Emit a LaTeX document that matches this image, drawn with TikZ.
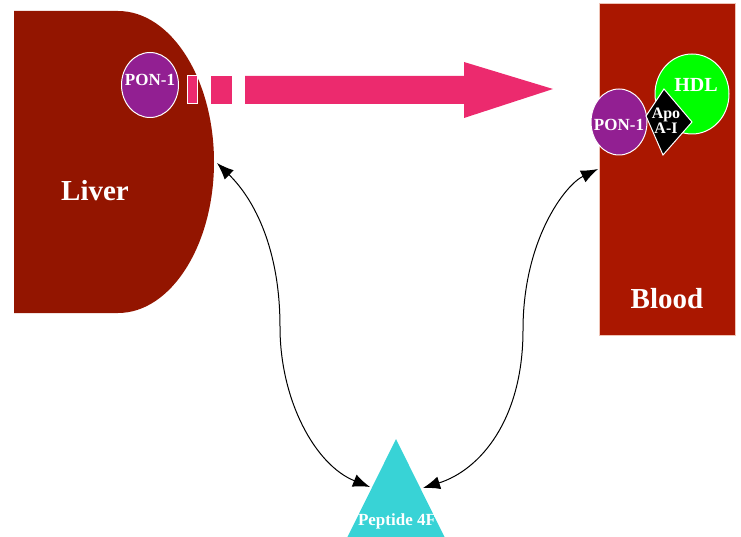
\documentclass[tikz,border=0pt]{standalone}
\usepackage{fontspec}
\setmainfont{Liberation Serif}
\usetikzlibrary{shapes.geometric,arrows.meta}
\definecolor{liverc}{HTML}{931500}
\definecolor{bloodc}{HTML}{AA1700}
\definecolor{bloodedge}{HTML}{EFC4B6}
\definecolor{pinkc}{HTML}{EC2A6E}
\definecolor{ponc}{HTML}{921F92}
\definecolor{hdlc}{HTML}{00FF00}
\definecolor{pepc}{HTML}{38D3D6}
\tikzset{
  wtext/.style={text=white,font=\bfseries,inner sep=0pt,align=center},
  blob/.style={ellipse,draw=white,line width=1pt,inner sep=0pt},
  pinkbar/.style={fill=pinkc},
  link/.style={black,line width=1pt,{Latex[length=17pt,width=13pt]}-{Latex[length=17pt,width=13pt]}}
}
\begin{document}
\begin{tikzpicture}[x=1pt,y=-1pt]
\useasboundingbox (0,0) rectangle (741,537);
% Liver
\fill[liverc] (14,11) -- (118,11) .. controls (171,11) and (214,79) .. (214,162)
  .. controls (214,245) and (171,313) .. (118,313) -- (14,313) -- cycle;
\node[wtext,font=\bfseries\fontsize{29}{31}\selectfont] (liver) at (95,191) {Liver};
% Blood
\fill[bloodc] (599,4) rectangle (735,335);
\draw[bloodedge,line width=1pt] (599,4) rectangle (735,335);
\node[wtext,font=\bfseries\fontsize{29}{31}\selectfont] (blood) at (667,299) {Blood};
% Left PON-1
\node[blob,fill=ponc,minimum width=57pt,minimum height=65pt] (ponL) at (150,85) {};
\node[wtext,font=\bfseries\fontsize{17}{19}\selectfont] (ponLt) at (150,80) {PON-1};
% Big dashed arrow
\filldraw[pinkbar,draw=white,line width=1pt] (187,76) rectangle (197,104);
\fill[pinkbar] (211,76) rectangle (232,104);
\fill[pinkbar] (245,76) -- (464,76) -- (464,62) -- (553,89) -- (464,118) -- (464,104) -- (245,104) -- cycle;
% HDL complex
\node[blob,fill=hdlc,minimum width=74pt,minimum height=80pt] (hdl) at (692,94) {};
\node[wtext,font=\bfseries\fontsize{20}{22}\selectfont] (hdlt) at (696,85) {HDL};
\node[blob,fill=ponc,minimum width=56pt,minimum height=66pt] (ponR) at (619,122) {};
\node[wtext,font=\bfseries\fontsize{17}{19}\selectfont] (ponRt) at (619,125) {PON-1};
\filldraw[fill=black,draw=white,line width=1pt] (664,89) -- (692,122) -- (663,155) -- (646,116) -- cycle;
\node[wtext,font=\bfseries\fontsize{16}{18}\selectfont] (apo) at (666,121) {Apo\\[-3pt]A-I};
% Peptide 4F
\fill[pepc] (396,439) -- (446,540) -- (346,540) -- cycle;
\node[wtext,font=\bfseries\fontsize{17}{19}\selectfont] (pep) at (397,521) {Peptide 4F};
% connector ends
\coordinate (liverEnd) at (217,163);
\coordinate (bloodEnd) at (598,169);
\coordinate (pepL) at (370,487);
\coordinate (pepR) at (423,488);
\coordinate (midL) at (280,327);
\coordinate (midR) at (523,330);
\draw[link] (liverEnd) .. controls (255,200) and (280,250) .. (midL)
  .. controls (280,400) and (315,465) .. (pepL);
\draw[link] (bloodEnd) .. controls (565,185) and (523,240) .. (midR)
  .. controls (523,420) and (480,470) .. (pepR);
\end{tikzpicture}
\end{document}
